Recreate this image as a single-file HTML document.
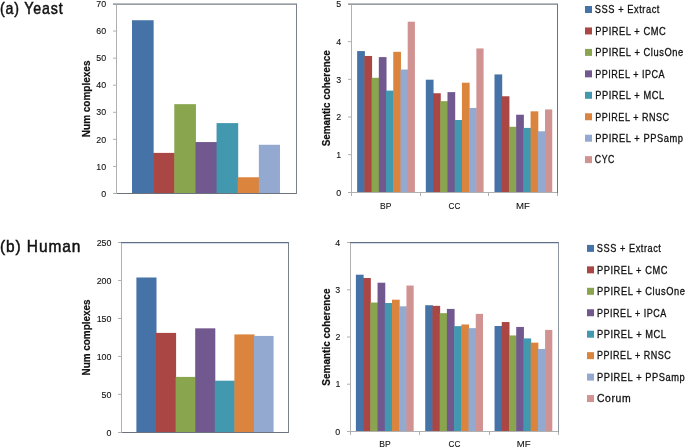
<!DOCTYPE html>
<html><head><meta charset="utf-8"><style>
html,body{margin:0;padding:0;background:#fff;width:685px;height:448px;overflow:hidden}
svg{display:block}
svg{will-change:transform;filter:blur(0.3px)} text.st{stroke:#111;stroke-width:0.3px} text.bt{stroke:#111;stroke-width:0.22px} text.tk{stroke:#111;stroke-width:0.1px} text.tt{stroke:#111;stroke-width:0.5px}
text{font-family:"Liberation Sans", sans-serif;fill:#111}
</style></head><body>
<svg width="685" height="448" viewBox="0 0 685 448">
<text x="0" y="0" font-size="16.570" letter-spacing="0.994" transform="translate(-0.08 13.50) scale(0.8558 1)" class="tt">(a) Yeast</text>
<path d="M113 4.15H297" fill="none" stroke="#767c85" stroke-width="1.3"/>
<path d="M296.5 4.15V194" fill="none" stroke="#7a808c" stroke-width="1"/>
<rect x="132.00" y="20.24" width="21.64" height="173.26" fill="#4572A7"/>
<rect x="153.14" y="152.89" width="21.64" height="40.61" fill="#AA4643"/>
<rect x="174.28" y="104.16" width="21.64" height="89.34" fill="#89A54E"/>
<rect x="195.42" y="142.06" width="21.64" height="51.44" fill="#71588F"/>
<rect x="216.56" y="123.11" width="21.64" height="70.39" fill="#4198AF"/>
<rect x="237.70" y="177.26" width="21.64" height="16.24" fill="#DB843D"/>
<rect x="258.84" y="144.77" width="21.14" height="48.73" fill="#93A9CF"/>
<path d="M116 193.5H296" stroke="#6c737c" stroke-width="1"/>
<path d="M113 193.5H116" stroke="#b0b0b0" stroke-width="1"/>
<path d="M116.5 4.65V194" stroke="#b0b0b0" stroke-width="1"/>
<path d="M113 166.43H116" stroke="#b0b0b0" stroke-width="1"/>
<path d="M113 139.36H116" stroke="#b0b0b0" stroke-width="1"/>
<path d="M113 112.29H116" stroke="#b0b0b0" stroke-width="1"/>
<path d="M113 85.21H116" stroke="#b0b0b0" stroke-width="1"/>
<path d="M113 58.14H116" stroke="#b0b0b0" stroke-width="1"/>
<path d="M113 31.07H116" stroke="#b0b0b0" stroke-width="1"/>
<text class="tk" x="0" y="0" font-size="8.857" transform="translate(101.21 196.70) scale(1.0 1)">0</text>
<text class="tk" x="0" y="0" font-size="8.857" transform="translate(96.29 169.63) scale(1.0 1)">10</text>
<text class="tk" x="0" y="0" font-size="8.857" transform="translate(96.29 142.56) scale(1.0 1)">20</text>
<text class="tk" x="0" y="0" font-size="8.857" transform="translate(96.29 115.49) scale(1.0 1)">30</text>
<text class="tk" x="0" y="0" font-size="8.857" transform="translate(96.29 88.41) scale(1.0 1)">40</text>
<text class="tk" x="0" y="0" font-size="8.857" transform="translate(96.29 61.34) scale(1.0 1)">50</text>
<text class="tk" x="0" y="0" font-size="8.857" transform="translate(96.29 34.27) scale(1.0 1)">60</text>
<text class="tk" x="0" y="0" font-size="8.857" transform="translate(96.29 7.20) scale(1.0 1)">70</text>
<text class="bt" x="0" y="0" font-size="10.756" font-weight="bold" transform="translate(89.70 137.16) rotate(-90) scale(0.9292 1)">Num complexes</text>
<path d="M348 4.15H558" fill="none" stroke="#767c85" stroke-width="1.3"/>
<path d="M557.5 4.15V193" fill="none" stroke="#6a7080" stroke-width="1"/>
<rect x="357.15" y="51.07" width="7.72" height="141.23" fill="#4572A7"/>
<rect x="364.37" y="55.97" width="7.72" height="136.33" fill="#AA4643"/>
<rect x="371.59" y="77.81" width="7.72" height="114.49" fill="#89A54E"/>
<rect x="378.81" y="57.10" width="7.72" height="135.20" fill="#71588F"/>
<rect x="386.03" y="90.62" width="7.72" height="101.68" fill="#4198AF"/>
<rect x="393.25" y="51.83" width="7.72" height="140.47" fill="#DB843D"/>
<rect x="400.47" y="69.53" width="7.72" height="122.77" fill="#93A9CF"/>
<rect x="407.69" y="21.70" width="7.22" height="170.60" fill="#D19392"/>
<rect x="425.82" y="79.70" width="7.72" height="112.60" fill="#4572A7"/>
<rect x="433.04" y="93.25" width="7.72" height="99.05" fill="#AA4643"/>
<rect x="440.26" y="101.16" width="7.72" height="91.14" fill="#89A54E"/>
<rect x="447.48" y="92.12" width="7.72" height="100.18" fill="#71588F"/>
<rect x="454.70" y="119.99" width="7.72" height="72.31" fill="#4198AF"/>
<rect x="461.92" y="82.71" width="7.72" height="109.59" fill="#DB843D"/>
<rect x="469.14" y="107.94" width="7.72" height="84.36" fill="#93A9CF"/>
<rect x="476.36" y="48.44" width="7.22" height="143.86" fill="#D19392"/>
<rect x="494.49" y="74.42" width="7.72" height="117.88" fill="#4572A7"/>
<rect x="501.71" y="96.27" width="7.72" height="96.03" fill="#AA4643"/>
<rect x="508.93" y="126.77" width="7.72" height="65.53" fill="#89A54E"/>
<rect x="516.15" y="114.72" width="7.72" height="77.58" fill="#71588F"/>
<rect x="523.37" y="127.90" width="7.72" height="64.40" fill="#4198AF"/>
<rect x="530.59" y="111.33" width="7.72" height="80.97" fill="#DB843D"/>
<rect x="537.81" y="131.29" width="7.72" height="61.01" fill="#93A9CF"/>
<rect x="545.03" y="109.45" width="7.22" height="82.85" fill="#D19392"/>
<path d="M351 192.5H557" stroke="#b0b0b0" stroke-width="1"/>
<path d="M348 192.5H351" stroke="#b0b0b0" stroke-width="1"/>
<path d="M351.5 4.65V193" stroke="#b0b0b0" stroke-width="1"/>
<path d="M348 154.64H351" stroke="#b0b0b0" stroke-width="1"/>
<path d="M348 116.98H351" stroke="#b0b0b0" stroke-width="1"/>
<path d="M348 79.32H351" stroke="#b0b0b0" stroke-width="1"/>
<path d="M348 41.66H351" stroke="#b0b0b0" stroke-width="1"/>
<path d="M351.50 193V196" stroke="#b0b0b0" stroke-width="1"/>
<path d="M420.50 193V196" stroke="#b0b0b0" stroke-width="1"/>
<path d="M488.50 193V196" stroke="#b0b0b0" stroke-width="1"/>
<path d="M557.50 193V196" stroke="#b0b0b0" stroke-width="1"/>
<text class="tk" x="0" y="0" font-size="8.857" transform="translate(336.21 195.50) scale(1.0 1)">0</text>
<text class="tk" x="0" y="0" font-size="8.857" transform="translate(336.30 157.84) scale(1.0 1)">1</text>
<text class="tk" x="0" y="0" font-size="8.857" transform="translate(336.32 120.18) scale(1.0 1)">2</text>
<text class="tk" x="0" y="0" font-size="8.857" transform="translate(336.27 82.52) scale(1.0 1)">3</text>
<text class="tk" x="0" y="0" font-size="8.857" transform="translate(336.14 44.86) scale(1.0 1)">4</text>
<text class="tk" x="0" y="0" font-size="8.857" transform="translate(336.25 7.20) scale(1.0 1)">5</text>
<text class="tk" x="0" y="0" font-size="9.429" transform="translate(380.04 209.10) scale(0.9015 1)">BP</text>
<text class="tk" x="0" y="0" font-size="9.429" transform="translate(448.54 209.10) scale(0.8682 1)">CC</text>
<text class="tk" x="0" y="0" font-size="9.429" transform="translate(516.03 209.10) scale(1.0189 1)">MF</text>
<text class="bt" x="0" y="0" font-size="10.756" font-weight="bold" transform="translate(330.00 146.30) rotate(-90) scale(0.9180 1)">Semantic coherence</text>
<rect x="585" y="6.00" width="7" height="7" fill="#4572A7"/>
<text x="0" y="0" font-size="10.610" letter-spacing="0.637" transform="translate(594.87 13.30) scale(0.8733 1)" class="st">SSS + Extract</text>
<rect x="585" y="27.45" width="7" height="7" fill="#AA4643"/>
<text x="0" y="0" font-size="10.610" letter-spacing="0.637" transform="translate(595.14 34.75) scale(0.8762 1)" class="st">PPIREL + CMC</text>
<rect x="585" y="48.90" width="7" height="7" fill="#89A54E"/>
<text x="0" y="0" font-size="10.610" letter-spacing="0.637" transform="translate(595.14 56.20) scale(0.8784 1)" class="st">PPIREL + ClusOne</text>
<rect x="585" y="70.35" width="7" height="7" fill="#71588F"/>
<text x="0" y="0" font-size="10.610" letter-spacing="0.637" transform="translate(595.16 77.65) scale(0.8500 1)" class="st">PPIREL + IPCA</text>
<rect x="585" y="91.80" width="7" height="7" fill="#4198AF"/>
<text x="0" y="0" font-size="10.610" letter-spacing="0.637" transform="translate(595.14 99.10) scale(0.8775 1)" class="st">PPIREL + MCL</text>
<rect x="585" y="113.25" width="7" height="7" fill="#DB843D"/>
<text x="0" y="0" font-size="10.610" letter-spacing="0.637" transform="translate(595.16 120.55) scale(0.8500 1)" class="st">PPIREL + RNSC</text>
<rect x="585" y="134.70" width="7" height="7" fill="#93A9CF"/>
<text x="0" y="0" font-size="10.610" letter-spacing="0.637" transform="translate(595.14 142.00) scale(0.8776 1)" class="st">PPIREL + PPSamp</text>
<rect x="585" y="156.15" width="7" height="7" fill="#D19392"/>
<text x="0" y="0" font-size="10.610" letter-spacing="0.637" transform="translate(594.86 163.45) scale(0.8220 1)" class="st">CYC</text>
<text x="0" y="0" font-size="16.570" letter-spacing="0.994" transform="translate(-0.06 252.10) scale(0.9330 1)" class="tt">(b) Human</text>
<path d="M121 243.5H288" fill="none" stroke="#d3dce8" stroke-width="1"/>
<path d="M118 242.5H121" fill="none" stroke="#b0b0b0" stroke-width="1"/>
<path d="M121 242.5H289" fill="none" stroke="#5f7085" stroke-width="1"/>
<path d="M288.5 242.5V433" fill="none" stroke="#7a7f88" stroke-width="1"/>
<rect x="136.40" y="277.50" width="20.10" height="154.80" fill="#4572A7"/>
<rect x="156.00" y="332.90" width="20.10" height="99.40" fill="#AA4643"/>
<rect x="175.60" y="376.91" width="20.10" height="55.39" fill="#89A54E"/>
<rect x="195.20" y="328.34" width="20.10" height="103.96" fill="#71588F"/>
<rect x="214.80" y="380.70" width="20.10" height="51.60" fill="#4198AF"/>
<rect x="234.40" y="334.41" width="20.10" height="97.89" fill="#DB843D"/>
<rect x="254.00" y="335.93" width="19.60" height="96.37" fill="#93A9CF"/>
<path d="M121 432.5H288" stroke="#6c737c" stroke-width="1"/>
<path d="M118 432.5H121" stroke="#b0b0b0" stroke-width="1"/>
<path d="M121.5 243.0V433" stroke="#b0b0b0" stroke-width="1"/>
<path d="M118 394.36H121" stroke="#b0b0b0" stroke-width="1"/>
<path d="M118 356.42H121" stroke="#b0b0b0" stroke-width="1"/>
<path d="M118 318.48H121" stroke="#b0b0b0" stroke-width="1"/>
<path d="M118 280.54H121" stroke="#b0b0b0" stroke-width="1"/>
<text class="tk" x="0" y="0" font-size="8.857" transform="translate(106.51 435.50) scale(1.0 1)">0</text>
<text class="tk" x="0" y="0" font-size="8.857" transform="translate(101.59 397.56) scale(1.0 1)">50</text>
<text class="tk" x="0" y="0" font-size="8.857" transform="translate(96.66 359.62) scale(1.0 1)">100</text>
<text class="tk" x="0" y="0" font-size="8.857" transform="translate(96.66 321.68) scale(1.0 1)">150</text>
<text class="tk" x="0" y="0" font-size="8.857" transform="translate(96.66 283.74) scale(1.0 1)">200</text>
<text class="tk" x="0" y="0" font-size="8.857" transform="translate(96.66 245.80) scale(1.0 1)">250</text>
<text class="bt" x="0" y="0" font-size="10.756" font-weight="bold" transform="translate(89.80 375.45) rotate(-90) scale(0.9219 1)">Num complexes</text>
<path d="M350 243.5H558" fill="none" stroke="#d3dce8" stroke-width="1"/>
<path d="M347 242.5H350" fill="none" stroke="#b0b0b0" stroke-width="1"/>
<path d="M350 242.5H559" fill="none" stroke="#5f7085" stroke-width="1"/>
<path d="M558.5 242.5V432" fill="none" stroke="#8e96a2" stroke-width="1"/>
<rect x="355.89" y="274.70" width="7.72" height="156.70" fill="#4572A7"/>
<rect x="363.11" y="278.00" width="7.72" height="153.40" fill="#AA4643"/>
<rect x="370.33" y="302.54" width="7.72" height="128.86" fill="#89A54E"/>
<rect x="377.55" y="282.72" width="7.72" height="148.68" fill="#71588F"/>
<rect x="384.77" y="303.02" width="7.72" height="128.38" fill="#4198AF"/>
<rect x="391.99" y="299.71" width="7.72" height="131.69" fill="#DB843D"/>
<rect x="399.21" y="306.32" width="7.72" height="125.08" fill="#93A9CF"/>
<rect x="406.43" y="285.55" width="7.22" height="145.85" fill="#D19392"/>
<rect x="425.22" y="305.23" width="7.72" height="126.17" fill="#4572A7"/>
<rect x="432.44" y="305.85" width="7.72" height="125.55" fill="#AA4643"/>
<rect x="439.66" y="313.16" width="7.72" height="118.24" fill="#89A54E"/>
<rect x="446.88" y="308.92" width="7.72" height="122.48" fill="#71588F"/>
<rect x="454.10" y="326.14" width="7.72" height="105.26" fill="#4198AF"/>
<rect x="461.32" y="324.49" width="7.72" height="106.91" fill="#DB843D"/>
<rect x="468.54" y="328.17" width="7.72" height="103.23" fill="#93A9CF"/>
<rect x="475.76" y="313.87" width="7.22" height="117.53" fill="#D19392"/>
<rect x="494.55" y="326.00" width="7.72" height="105.40" fill="#4572A7"/>
<rect x="501.77" y="322.04" width="7.72" height="109.36" fill="#AA4643"/>
<rect x="508.99" y="335.44" width="7.72" height="95.96" fill="#89A54E"/>
<rect x="516.21" y="326.95" width="7.72" height="104.45" fill="#71588F"/>
<rect x="523.43" y="338.42" width="7.72" height="92.98" fill="#4198AF"/>
<rect x="530.65" y="342.66" width="7.72" height="88.74" fill="#DB843D"/>
<rect x="537.87" y="348.94" width="7.72" height="82.46" fill="#93A9CF"/>
<rect x="545.09" y="329.92" width="7.22" height="101.48" fill="#D19392"/>
<path d="M350 431.5H558" stroke="#b0b0b0" stroke-width="1"/>
<path d="M347 431.5H350" stroke="#b0b0b0" stroke-width="1"/>
<path d="M350.5 243.0V432" stroke="#b0b0b0" stroke-width="1"/>
<path d="M347 384.20H350" stroke="#b0b0b0" stroke-width="1"/>
<path d="M347 337.00H350" stroke="#b0b0b0" stroke-width="1"/>
<path d="M347 289.80H350" stroke="#b0b0b0" stroke-width="1"/>
<path d="M350.50 432V435" stroke="#b0b0b0" stroke-width="1"/>
<path d="M419.50 432V435" stroke="#b0b0b0" stroke-width="1"/>
<path d="M489.50 432V435" stroke="#b0b0b0" stroke-width="1"/>
<path d="M558.50 432V435" stroke="#b0b0b0" stroke-width="1"/>
<text class="tk" x="0" y="0" font-size="8.857" transform="translate(335.31 434.60) scale(1.0 1)">0</text>
<text class="tk" x="0" y="0" font-size="8.857" transform="translate(335.40 387.40) scale(1.0 1)">1</text>
<text class="tk" x="0" y="0" font-size="8.857" transform="translate(335.42 340.20) scale(1.0 1)">2</text>
<text class="tk" x="0" y="0" font-size="8.857" transform="translate(335.37 293.00) scale(1.0 1)">3</text>
<text class="tk" x="0" y="0" font-size="8.857" transform="translate(335.24 245.80) scale(1.0 1)">4</text>
<text class="tk" x="0" y="0" font-size="9.429" transform="translate(379.37 447.30) scale(0.9015 1)">BP</text>
<text class="tk" x="0" y="0" font-size="9.429" transform="translate(448.54 447.30) scale(0.8682 1)">CC</text>
<text class="tk" x="0" y="0" font-size="9.429" transform="translate(516.70 447.30) scale(1.0189 1)">MF</text>
<text class="bt" x="0" y="0" font-size="10.756" font-weight="bold" transform="translate(329.50 385.70) rotate(-90) scale(0.9300 1)">Semantic coherence</text>
<rect x="587" y="244.90" width="7" height="7" fill="#4572A7"/>
<text x="0" y="0" font-size="10.610" letter-spacing="0.637" transform="translate(596.78 252.20) scale(0.8678 1)" class="st">SSS + Extract</text>
<rect x="587" y="266.35" width="7" height="7" fill="#AA4643"/>
<text x="0" y="0" font-size="10.610" letter-spacing="0.637" transform="translate(596.94 273.65) scale(0.8749 1)" class="st">PPIREL + CMC</text>
<rect x="587" y="287.80" width="7" height="7" fill="#89A54E"/>
<text x="0" y="0" font-size="10.610" letter-spacing="0.637" transform="translate(596.94 295.10) scale(0.8774 1)" class="st">PPIREL + ClusOne</text>
<rect x="587" y="309.25" width="7" height="7" fill="#71588F"/>
<text x="0" y="0" font-size="10.610" letter-spacing="0.637" transform="translate(596.96 316.55) scale(0.8488 1)" class="st">PPIREL + IPCA</text>
<rect x="587" y="330.70" width="7" height="7" fill="#4198AF"/>
<text x="0" y="0" font-size="10.610" letter-spacing="0.637" transform="translate(596.94 338.00) scale(0.8762 1)" class="st">PPIREL + MCL</text>
<rect x="587" y="352.15" width="7" height="7" fill="#DB843D"/>
<text x="0" y="0" font-size="10.610" letter-spacing="0.637" transform="translate(596.96 359.45) scale(0.8488 1)" class="st">PPIREL + RNSC</text>
<rect x="587" y="373.60" width="7" height="7" fill="#93A9CF"/>
<text x="0" y="0" font-size="10.610" letter-spacing="0.637" transform="translate(596.94 380.90) scale(0.8765 1)" class="st">PPIREL + PPSamp</text>
<rect x="587" y="395.05" width="7" height="7" fill="#D19392"/>
<text x="0" y="0" font-size="10.610" letter-spacing="0.637" transform="translate(596.88 402.35) scale(0.9829 1)" class="st">Corum</text>
</svg>
</body></html>
